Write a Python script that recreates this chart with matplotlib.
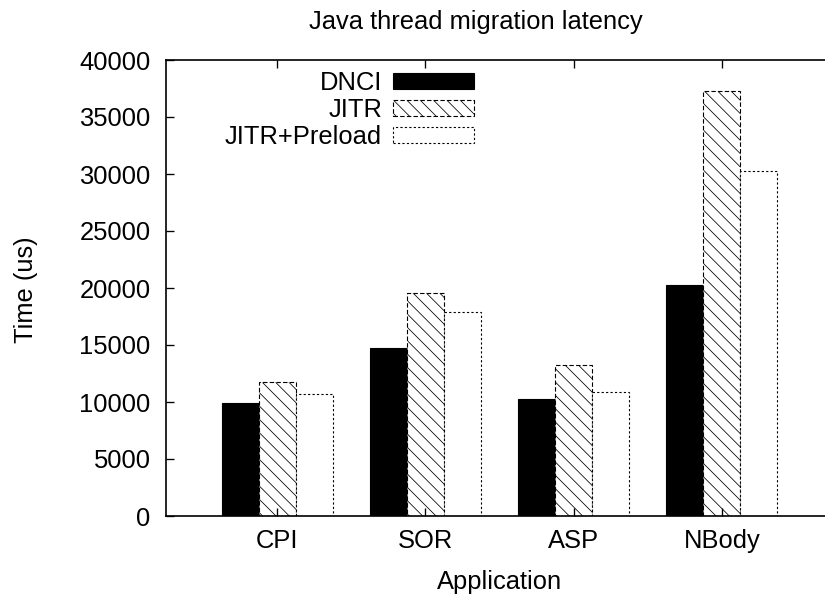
import matplotlib
matplotlib.use("Agg")
import matplotlib.pyplot as plt
import numpy as np

# Migration latency per application (microseconds)
apps = ["CPI", "SOR", "ASP", "NBody"]
dnci = [9950, 14750, 10250, 20250]
jitr = [11730, 19600, 13280, 37280]
jitr_preload = [10730, 17900, 10850, 30250]

plt.rcParams["font.family"] = ["Liberation Sans", "DejaVu Sans"]
plt.rcParams["hatch.linewidth"] = 0.7
plt.rcParams["hatch.color"] = "black"

fig = plt.figure(figsize=(825 / 80, 601 / 80), dpi=80)
ax = fig.add_axes([166 / 825, 1 - 516 / 601, 667 / 825, 456 / 601])

x = np.arange(len(apps))
w = 0.25
ax.bar(x - w, dnci, w, color="black", edgecolor="black", linewidth=1, label="DNCI")
ax.bar(x, jitr, w, color="white", edgecolor="black", linewidth=1,
       linestyle=(0, (4, 2)), hatch="\\\\", label="JITR")
ax.bar(x + w, jitr_preload, w, color="white", edgecolor="black", linewidth=1,
       linestyle=(0, (2, 2)), label="JITR+Preload")

ax.set_xlim(-0.75, 3.75)
ax.set_ylim(0, 40000)
ax.set_yticks(np.arange(0, 40001, 5000))
ax.set_xticks(x)
ax.set_xticklabels(apps)

fs = 23
ax.tick_params(direction="in", top=True, right=True, length=7, width=1.2,
               labelsize=fs)
ax.tick_params(axis="y", pad=14)
ax.tick_params(axis="x", pad=12)
for s in ax.spines.values():
    s.set_linewidth(1.5)

fig.text(476 / 825, 1 - 22 / 601, "Java thread migration latency",
         ha="center", va="center", fontsize=fs)
fig.text(500 / 825, 1 - 582 / 601, "Application", ha="center", va="center",
         fontsize=fs)
fig.text(26 / 825, 1 - 290 / 601, "Time (us)", ha="center", va="center",
         rotation=90, fontsize=fs)

fsp = fs * 80 / 72
ax.legend(loc="upper right", bbox_to_anchor=(474 / 825, 1 - 71 / 601),
          bbox_transform=fig.transFigure, frameon=False, markerfirst=False,
          fontsize=fs, handlelength=81 / fsp, handleheight=14 / fsp,
          handletextpad=11 / fsp, labelspacing=0.12, borderpad=0,
          borderaxespad=0)

fig.savefig("out.png", dpi=80)
